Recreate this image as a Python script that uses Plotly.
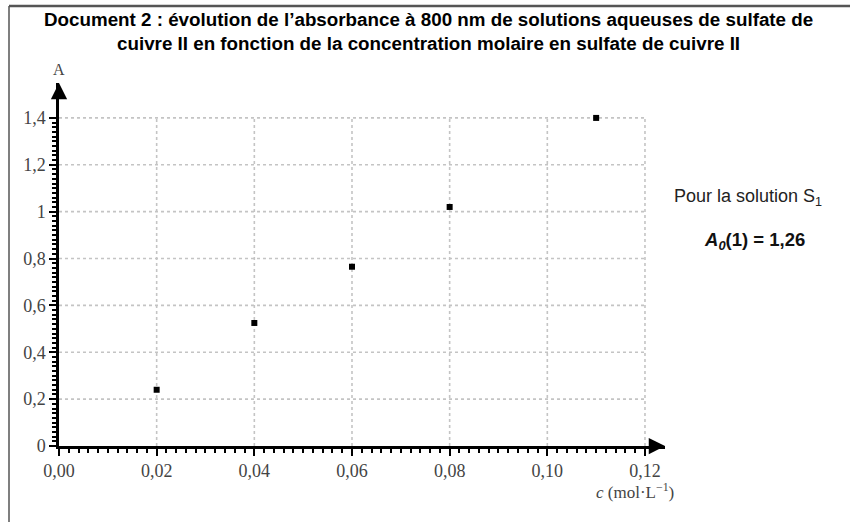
import plotly.graph_objects as go

# ---- data ----
conc = [0.02, 0.04, 0.06, 0.08, 0.11]
absorb = [0.24, 0.525, 0.765, 1.02, 1.40]

x_ticks = [0.00, 0.02, 0.04, 0.06, 0.08, 0.10, 0.12]
x_labels = ["0,00", "0,02", "0,04", "0,06", "0,08", "0,10", "0,12"]
y_ticks = [0, 0.2, 0.4, 0.6, 0.8, 1.0, 1.2, 1.4]
y_labels = ["0", "0,2", "0,4", "0,6", "0,8", "1", "1,2", "1,4"]

title_lines = ["Document 2 : évolution de l’absorbance à 800 nm de solutions aqueuses de sulfate de",
               "cuivre II en fonction de la concentration molaire en sulfate de cuivre II"]

W, H = 854, 522
L, R, T, B = 59, 189, 83, 76
x_max = 0.1241
y_max = 1.549

x_minor = [round(i * 0.002, 4) for i in range(61) if i % 5 != 0]
x_mid = [round(i * 0.01, 3) for i in range(13) if i % 2 == 1]
y_minor = [round(i * 0.02, 3) for i in range(71) if i % 5 != 0]
y_mid = [round(i * 0.1, 2) for i in range(15) if i % 2 == 1]

fig = go.Figure()

# dotted grid limited to the graduated area
gx, gy = [], []
for yv in y_ticks[1:]:
    gx += [x_ticks[0], x_ticks[-1], None]
    gy += [yv, yv, None]
for xv in x_ticks[1:]:
    gx += [xv, xv, None]
    gy += [y_ticks[0], y_ticks[-1], None]
fig.add_trace(go.Scatter(x=gx, y=gy, mode="lines",
                         line=dict(color="#c4c4c4", width=1.6, dash="dot"),
                         hoverinfo="skip", showlegend=False))

fig.add_trace(go.Scatter(x=conc, y=absorb, mode="markers",
                         marker=dict(symbol="square", size=6, color="black"),
                         showlegend=False, cliponaxis=False))

# invisible trace for the medium-tick overlay axes
fig.add_trace(go.Scatter(x=[0], y=[0], xaxis="x2", yaxis="y2", mode="markers",
                         marker=dict(opacity=0), hoverinfo="skip", showlegend=False))

serif = "Liberation Serif, Times New Roman, serif"
sans = "Liberation Sans, Arial, sans-serif"
tickfont = dict(family=serif, size=18, color="#444")

fig.update_layout(
    width=W, height=H,
    margin=dict(l=L, r=R, t=T, b=B),
    paper_bgcolor="white", plot_bgcolor="white",
    xaxis=dict(range=[0, x_max], showgrid=False, zeroline=False,
               showline=True, linecolor="black", linewidth=2.5,
               ticks="outside", tickvals=x_ticks, ticktext=x_labels,
               ticklen=7, tickwidth=2, tickcolor="black", tickfont=tickfont,
               minor=dict(tickmode="array", tickvals=x_minor, ticks="outside",
                          ticklen=4, tickwidth=1.5, tickcolor="black", showgrid=False)),
    yaxis=dict(range=[0, y_max], showgrid=False, zeroline=False,
               showline=True, linecolor="black", linewidth=2.5,
               ticks="outside", tickvals=y_ticks, ticktext=y_labels,
               ticklen=7, tickwidth=2, tickcolor="black", tickfont=tickfont,
               minor=dict(tickmode="array", tickvals=y_minor, ticks="outside",
                          ticklen=4, tickwidth=1.5, tickcolor="black", showgrid=False)),
    xaxis2=dict(range=[0, x_max], overlaying="x", anchor="y2", side="bottom",
                showgrid=False, zeroline=False, showline=False,
                ticks="outside", tickvals=x_mid, ticklen=6, tickwidth=1.5,
                tickcolor="black", showticklabels=False),
    yaxis2=dict(range=[0, y_max], overlaying="y", anchor="x2", side="left",
                showgrid=False, zeroline=False, showline=False,
                ticks="outside", tickvals=y_mid, ticklen=6, tickwidth=1.5,
                tickcolor="black", showticklabels=False),
)

pw = W - L - R
ph = H - T - B

def px_x(p):
    return (p - L) / pw

def px_y(p):
    return (H - B - p) / ph

# title (two lines)
for line, yc in zip(title_lines, [19, 43]):
    fig.add_annotation(x=px_x(428), y=px_y(yc), xref="paper", yref="paper",
                       text="<b>" + line + "</b>", showarrow=False,
                       xanchor="center", yanchor="middle",
                       font=dict(family=sans, size=18.8, color="black"))

# arrowheads at the ends of the axes
fig.add_annotation(x=0, y=1, xref="paper", yref="paper", ax=0, ay=14,
                   showarrow=True, arrowhead=2, arrowsize=1.3, arrowwidth=2.5,
                   arrowcolor="black", text="")
fig.add_annotation(x=1, y=0, xref="paper", yref="paper", ax=-14, ay=0,
                   showarrow=True, arrowhead=2, arrowsize=1.3, arrowwidth=2.5,
                   arrowcolor="black", text="")

# axis labels
fig.add_annotation(x=0, y=px_y(69), xref="paper", yref="paper", text="A",
                   showarrow=False, xanchor="center", yanchor="middle",
                   font=dict(family=serif, size=16, color="#444"))
fig.add_annotation(x=px_x(635), y=px_y(491), xref="paper", yref="paper",
                   text="<i>c</i> (mol·L<sup>−1</sup>)", showarrow=False,
                   xanchor="center", yanchor="middle",
                   font=dict(family=serif, size=17, color="#444"))

# side notes
fig.add_annotation(x=px_x(748), y=px_y(197), xref="paper", yref="paper",
                   text="Pour la solution S<sub>1</sub>", showarrow=False,
                   xanchor="center", yanchor="middle",
                   font=dict(family=sans, size=18, color="#222"))
fig.add_annotation(x=px_x(754), y=px_y(241), xref="paper", yref="paper",
                   text="<b><i>A</i><sub><i>0</i></sub>(1) = 1,26</b>", showarrow=False,
                   xanchor="center", yanchor="middle",
                   font=dict(family=sans, size=18.5, color="#111"))

# document frame (top and left edges)
fig.add_shape(type="line", xref="paper", yref="paper",
              x0=px_x(9), x1=px_x(850), y0=px_y(6), y1=px_y(6),
              line=dict(color="#555", width=2.5))
fig.add_shape(type="line", xref="paper", yref="paper",
              x0=px_x(9), x1=px_x(9), y0=px_y(6), y1=px_y(H),
              line=dict(color="#555", width=1.5))

fig.write_html("out.html")
